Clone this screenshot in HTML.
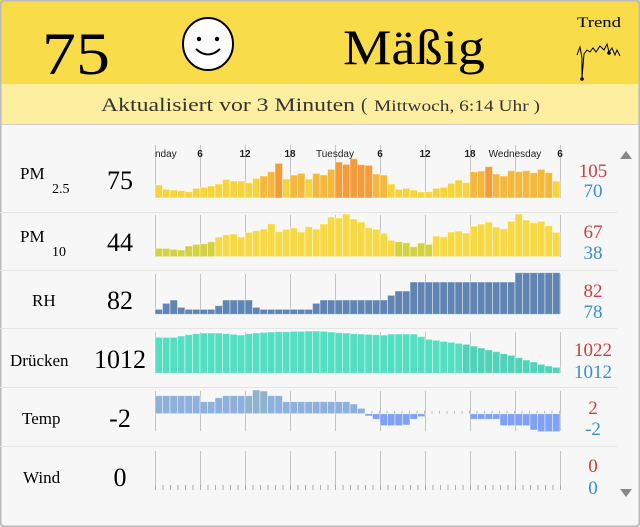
<!DOCTYPE html>
<html><head><meta charset="utf-8">
<style>
html,body{margin:0;padding:0;background:#fff;}
svg{display:block;}
</style></head>
<body>
<svg id="s" width="640" height="527" xmlns="http://www.w3.org/2000/svg" font-family="Liberation Serif, serif">
<rect x="0" y="0" width="640" height="527" fill="#f7f7f7"/>
<rect x="0" y="0" width="640" height="84" fill="#f9dc4a"/>
<rect x="0" y="84" width="640" height="40" fill="#fdeea0"/>
<line x1="0" y1="124.5" x2="640" y2="124.5" stroke="#d0d0d0"/>
<rect x="0.5" y="0.5" width="639" height="526" rx="4" fill="none" stroke="#bbb" stroke-width="2"/>
<text x="42" y="74" font-size="60" textLength="68" lengthAdjust="spacingAndGlyphs">75</text>
<ellipse cx="208" cy="44" rx="25" ry="26" fill="#fff" stroke="#000" stroke-width="2"/>
<circle cx="199" cy="39" r="2.2" fill="#000"/><circle cx="217" cy="39" r="2.2" fill="#000"/>
<path d="M196 49 Q208 60 220 49" fill="none" stroke="#000" stroke-width="2"/>
<text x="343" y="64" font-size="50" textLength="142" lengthAdjust="spacingAndGlyphs">Mäßig</text>
<text x="577" y="27" font-size="15" textLength="44" lengthAdjust="spacingAndGlyphs">Trend</text>
<polyline points="577,55 580,47 582,58 582,78 584,54 587,50 590,52 593,48 596,52 600,46 604,50 607,44 609,52 612,48 615,55 617,50 620,56" fill="none" stroke="#000" stroke-width="1"/>
<circle cx="582" cy="79" r="1.8"/><circle cx="609" cy="53" r="1.8"/>
<text x="101" y="111" font-size="19" fill="#333" textLength="254" lengthAdjust="spacingAndGlyphs">Aktualisiert vor 3 Minuten</text>
<text x="361" y="111" font-size="19" fill="#333">(</text>
<text x="374" y="111" font-size="16" fill="#333" textLength="166" lengthAdjust="spacingAndGlyphs">Mittwoch, 6:14 Uhr )</text>
<g id="g"></g>
<path d="M620 159 L632 159 L626 151 Z" fill="#888"/>
<path d="M620 489 L632 489 L626 497 Z" fill="#888"/>
</svg>
<script>
var g=document.getElementById('g'),h='';
var X0=155,BW=7.5;
function R(x,y,w,hh,c){return '<rect x="'+x+'" y="'+y+'" width="'+w+'" height="'+hh+'" fill="'+c+'" stroke="rgba(255,255,255,0.45)" stroke-width="1"/>';}
function T(x,y,s,sz,c,a,extra){return '<text x="'+x+'" y="'+y+'" font-size="'+sz+'" fill="'+(c||'#000')+'" text-anchor="'+(a||'start')+'" '+(extra||'')+'>'+s+'</text>';}
[212,270,328,387,446].forEach(function(y){h+='<line x1="0" y1="'+(y+.5)+'" x2="617" y2="'+(y+.5)+'" stroke="#e4e4e4"/>';});
var rows=[[150,198],[213,257],[272,314],[330,373],[389,431],[449,488]];
rows.forEach(function(r,i){for(var k=0;k<10;k++){var x=X0+k*45;h+='<line x1="'+(x+.5)+'" y1="'+(i==0?145:r[0]+2)+'" x2="'+(x+.5)+'" y2="'+(i==4?431:r[1])+'" stroke="#c4c4c4"/>';}});
var p25=[555,568,570,572,575,565,562,558,552,538,543,543,548,535,528,515,490,537,525,520,537,520,525,508,486,493,476,494,496,522,525,552,568,565,570,576,575,565,562,550,540,548,515,513,500,522,528,512,515,512,518,508,518,543];
p25.forEach(function(v,i){var t=v/3,hh=198-t;var c=hh>30?'#f39c3c':hh>20?'#f5b83e':'#f7d43e';h+=R(X0+i*BW,t,BW,hh,c);});
var p10=[145,145,148,150,138,133,131,125,111,104,102,111,97,92,87,71,95,88,84,96,80,87,72,51,54,42,57,66,83,88,100,121,125,128,140,129,133,108,110,96,93,99,78,72,66,81,86,64,42,60,68,64,77,97];
p10.forEach(function(v,i){var t=200+v/3;var c=v>=125?'#d3d144':'#f7d946';h+=R(X0+i*BW,t,BW,256.7-t,c);});
var rh=[148,130,120,142,148,148,148,148,137,120,120,120,120,142,148,148,148,148,148,148,148,130,120,120,120,120,120,120,120,120,120,106,93,93];
while(rh.length<48)rh.push(66);while(rh.length<54)rh.push(38);
rh.forEach(function(v,i){var t=260+v/3;h+=R(X0+i*BW,t,BW,314.3-t,'#6085b3');});
var pr=[232,232,232,232,232,232,228,224,221,219,219,219,221,223,225,221,219,217,216,215,215,214,214,213,213,214,216,218,219,221,222,223,224,225,222,222,222,222,230,238,241,244,247,250,253,258,264,270,275,281,286,293,300,306,313,318,322];
pr=pr.slice(pr.length-54);
pr.forEach(function(v,i){var t=260+v/3;h+=R(X0+i*BW,t,BW,373.3-t,i>40?'#52d2b8':'#56dec3');});
var tp=[];function add(v,n){for(var k=0;k<n;k++)tp.push(v);}
add(407,6);add(425,2);add(413,1);add(407,4);add(390,1);add(393,1);add(407,2);add(425,9);add(432,1);add(445,1);add(468,1);add(478,1);add(497,3);add(495,1);add(478,1);add(470,1);add(null,6);add(478,4);add(497,4);add(510,1);add(515,3);
var z=413.7;
tp.forEach(function(v,i){var x=X0+i*BW;h+='<line x1="'+(x+BW-0.5)+'" y1="'+(z-3)+'" x2="'+(x+BW-0.5)+'" y2="'+z+'" stroke="#bbb"/>';if(v===null)return;var y=260+v/3;if(y<z)h+=R(x,y,BW,z-y,i>=12&&i<=14?'#8fb3cc':'#8eb0dc');else h+=R(x,z,BW,y-z,'#7fa2f6');});
for(var i=0;i<=54;i++){var x=X0+i*BW;h+='<line x1="'+(x+.5)+'" y1="485" x2="'+(x+.5)+'" y2="490" stroke="#aaa"/>';}
var lb=[[155,'nday'],[200,'6'],[245,'12'],[290,'18'],[335,'Tuesday'],[380,'6'],[425,'12'],[470,'18'],[515,'Wednesday'],[560,'6']];
lb.forEach(function(l){var anch=l[1]=='nday'?'start':'middle';var x=l[1]=='nday'?155:l[0];h+=T(x,157,l[1],10,'#222',anch,'font-family="Liberation Sans, sans-serif" font-weight="'+(l[1].length<3?'bold':'normal')+'"');});
h+=T(20,179,'PM',17)+T(52,193,'2.5',14);
h+=T(20,242,'PM',17)+T(52,256,'10',14);
h+=T(32,306,'RH',17);
h+=T(10,366,'Drücken',17);
h+=T(22,424,'Temp',17);
h+=T(23,483,'Wind',17);
[['75',189,120],['44',251,120],['82',309,120],['1012',368,120],['-2',427,120],['0',486,120]].forEach(function(v){h+=T(v[2],v[1],v[0],26,'#000','middle');});
[['105','70',177,197],['67','38',238,259],['82','78',297,318],['1022','1012',356,378],['2','-2',414,435],['0','0',472,494]].forEach(function(v){h+=T(593,v[2],v[0],19,'#c94040','middle')+T(593,v[3],v[1],19,'#3a8ed2','middle');});
g.innerHTML=h;
</script>
</body></html>
